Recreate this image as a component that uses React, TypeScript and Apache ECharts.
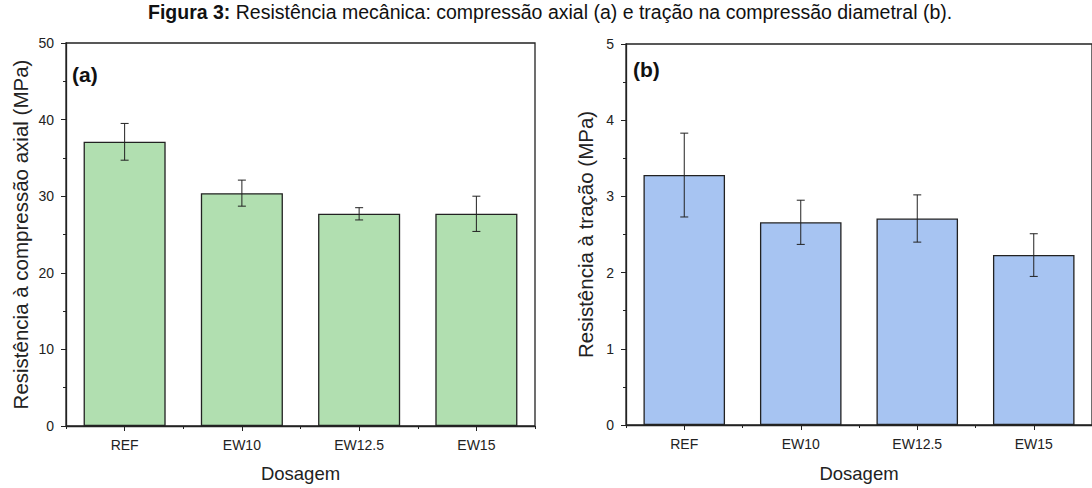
import React, { useEffect, useRef } from "react";
import * as echarts from "echarts";

const categories = ["REF", "EW10", "EW12.5", "EW15"];
const compressao = [37.1, 30.4, 27.7, 27.7];
const compressaoErr = [2.4, 1.7, 0.8, 2.3];
const tracao = [3.28, 2.66, 2.71, 2.23];
const tracaoErr = [0.55, 0.29, 0.31, 0.28];

const FONT = "Liberation Sans, Arial, sans-serif";

function errorSeries(xIdx: number, yIdx: number, means: number[], errs: number[]) {
  return {
    type: "custom",
    xAxisIndex: xIdx,
    yAxisIndex: yIdx,
    z: 10,
    data: means.map((m, i) => [i, m - errs[i], m + errs[i]]),
    renderItem: (params: any, api: any) => {
      const lo = api.coord([api.value(0), api.value(1)]);
      const hi = api.coord([api.value(0), api.value(2)]);
      const cap = 4;
      const style = { stroke: "#222", lineWidth: 1 };
      return {
        type: "group",
        children: [
          { type: "line", shape: { x1: lo[0], y1: lo[1], x2: hi[0], y2: hi[1] }, style },
          { type: "line", shape: { x1: hi[0] - cap, y1: hi[1], x2: hi[0] + cap, y2: hi[1] }, style },
          { type: "line", shape: { x1: lo[0] - cap, y1: lo[1], x2: lo[0] + cap, y2: lo[1] }, style },
        ],
      };
    },
  };
}

function yAxisCfg(gridIndex: number, max: number, interval: number, name: string, nameGap: number) {
  return {
    type: "value",
    gridIndex,
    min: 0,
    max,
    interval,
    name,
    nameLocation: "middle",
    nameGap,
    nameTextStyle: { fontFamily: FONT, fontSize: 20.5, color: "#222" },
    axisLine: { show: true, lineStyle: { color: "#222", width: 1.3 } },
    axisTick: { show: true, inside: false, length: 5, lineStyle: { color: "#222" } },
    minorTick: { show: true, splitNumber: 2, length: 3, lineStyle: { color: "#222" } },
    axisLabel: { fontFamily: FONT, fontSize: 14, color: "#222", margin: 12 },
    splitLine: { show: false },
  };
}

function xAxisMain(gridIndex: number, nameGap: number) {
  return {
    type: "category",
    gridIndex,
    data: categories,
    name: "Dosagem",
    nameLocation: "middle",
    nameGap,
    nameTextStyle: { fontFamily: FONT, fontSize: 18.5, color: "#222" },
    axisLine: { show: true, lineStyle: { color: "#222", width: 1.3 } },
    axisTick: { show: true, alignWithLabel: true, length: 5, lineStyle: { color: "#222" } },
    axisLabel: { fontFamily: FONT, fontSize: 14, color: "#222", margin: 12 },
    splitLine: { show: false },
  };
}

function xAxisMinor(gridIndex: number) {
  return {
    type: "category",
    gridIndex,
    data: categories,
    position: "bottom",
    axisLine: { show: false },
    axisTick: { show: true, alignWithLabel: false, length: 3, lineStyle: { color: "#222" } },
    axisLabel: { show: false },
    splitLine: { show: false },
  };
}

export default function App() {
  const ref = useRef<HTMLDivElement>(null);
  useEffect(() => {
    if (!ref.current) return;
    const chart = echarts.init(ref.current, null, { renderer: "svg" });
    chart.setOption({
      animation: false,
      backgroundColor: "#fff",
      grid: [
        { left: 66, top: 43, width: 469, height: 384, show: true, borderColor: "#222", borderWidth: 1.3, backgroundColor: "transparent" },
        { left: 626, top: 44, width: 476, height: 382, show: true, borderColor: "#222", borderWidth: 1.3, backgroundColor: "transparent" },
      ],
      xAxis: [xAxisMain(0, 38), xAxisMain(1, 39), xAxisMinor(0), xAxisMinor(1)],
      yAxis: [
        yAxisCfg(0, 50, 10, "Resistência à compressão axial (MPa)", 35),
        yAxisCfg(1, 5, 1, "Resistência à tração (MPa)", 30),
      ],
      series: [
        {
          type: "bar",
          xAxisIndex: 0,
          yAxisIndex: 0,
          data: compressao,
          barWidth: "70%",
          itemStyle: { color: "#b1dfb0", borderColor: "#222", borderWidth: 1.3 },
        },
        {
          type: "bar",
          xAxisIndex: 1,
          yAxisIndex: 1,
          data: tracao,
          barWidth: "70%",
          itemStyle: { color: "#a7c4f2", borderColor: "#222", borderWidth: 1.3 },
        },
        errorSeries(0, 0, compressao, compressaoErr),
        errorSeries(1, 1, tracao, tracaoErr),
      ],
      graphic: [
        {
          type: "text",
          left: 148,
          top: 2,
          style: {
            text: "{b|Figura 3:} Resistência mecânica: compressão axial (a) e tração na compressão diametral (b).",
            fontFamily: FONT,
            fontSize: 19.5,
            fill: "#111",
            rich: {
              b: { fontFamily: FONT, fontSize: 19.5, fontWeight: "bold", fill: "#111" },
            },
          },
        },
        {
          type: "text",
          left: 72,
          top: 64,
          style: { text: "(a)", fontFamily: FONT, fontSize: 21, fontWeight: "bold", fill: "#111" },
        },
        {
          type: "text",
          left: 633,
          top: 59,
          style: { text: "(b)", fontFamily: FONT, fontSize: 21, fontWeight: "bold", fill: "#111" },
        },
      ],
    });
    return () => chart.dispose();
  }, []);
  return <div ref={ref} style={{ position: "fixed", left: 0, top: 0, width: 1092, height: 488 }} />;
}
